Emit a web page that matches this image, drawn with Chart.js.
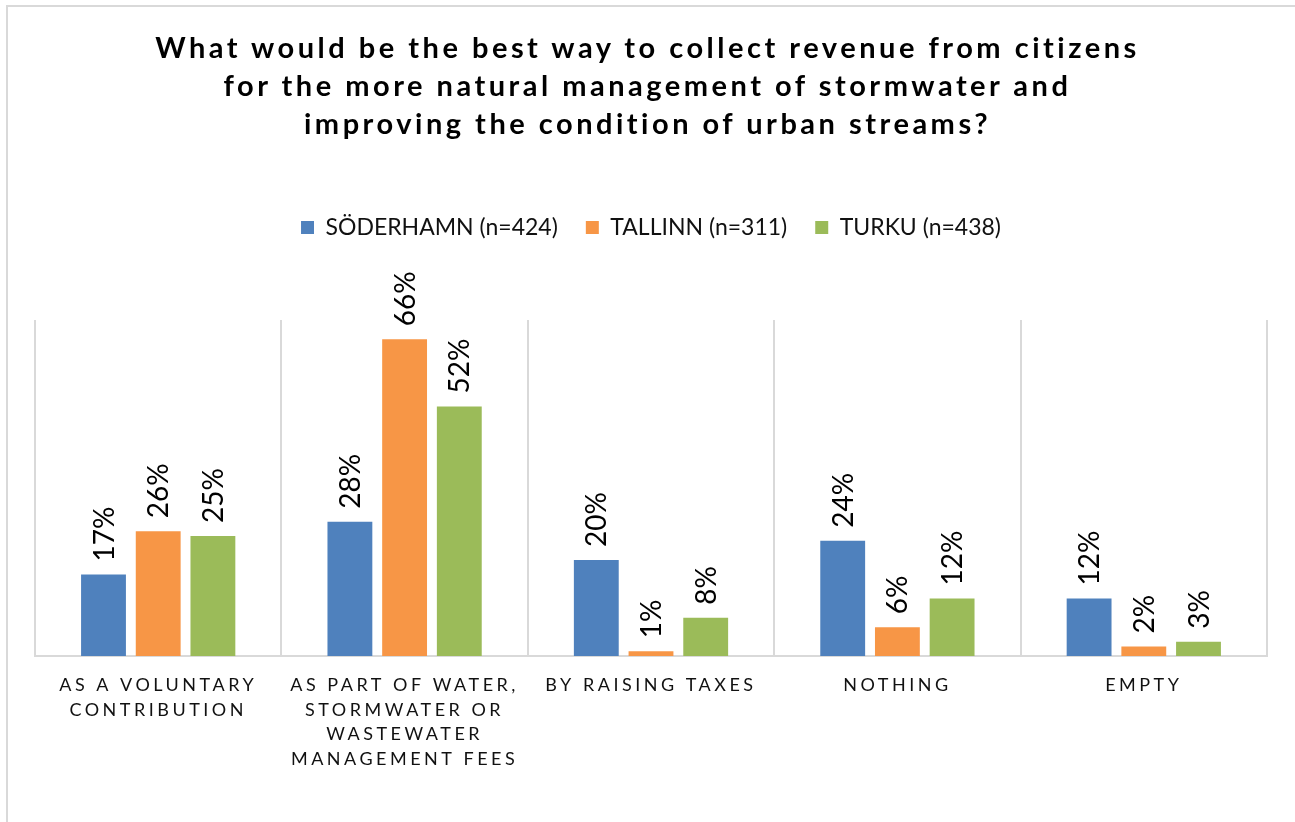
<!DOCTYPE html>
<html>
<head>
<meta charset="utf-8">
<script src="https://cdn.jsdelivr.net/npm/chart.js@4.4.1/dist/chart.umd.min.js"></script>
<style>
    html, body { margin: 0; padding: 0; background: #fff; }
    #wrap { position: relative; width: 1295px; height: 822px; overflow: hidden; }
    #frame { position: absolute; left: 6px; top: 5px; right: -10px; bottom: -10px;
             border-top: 2px solid #d9d9d9; border-left: 2px solid #d9d9d9; }
    #title { position: absolute; left: 0; top: 28px; width: 1295px; text-align: center;
             font-family: Lato, sans-serif; font-weight: bold; font-size: 29px;
             line-height: 38px; letter-spacing: 3.5px; color: #000; }
    canvas { position: absolute; left: 0; top: 0; }
</style>
</head>
<body>
<div id="wrap">
    <div id="frame"></div>
    <canvas id="chart" width="1295" height="822"></canvas>
    <div id="title">What would be the best way to collect revenue from citizens<br>for the more natural management of stormwater and<br>improving the condition of urban streams?</div>
</div>
<script>
// answer categories (multi-line axis labels)
const categories = [
    ['AS A VOLUNTARY', 'CONTRIBUTION'],
    ['AS PART OF WATER,', 'STORMWATER OR', 'WASTEWATER', 'MANAGEMENT FEES'],
    ['BY RAISING TAXES'],
    ['NOTHING'],
    ['EMPTY']
];

// percent of respondents per city
const soderhamn = [17, 28, 20, 24, 12];
const tallinn = [26, 66, 1, 6, 2];
const turku = [25, 52, 8, 12, 3];

const seriesNames = ['SÖDERHAMN (n=424)', 'TALLINN (n=311)', 'TURKU (n=438)'];
const seriesColors = ['#4f81bd', '#f79646', '#9bbb59'];

// rotated % labels above bars, then letter spacing for the axis labels (drawn on layer z=1)
const barLabels = {
    id: 'barLabels',
    afterDatasetsDraw(chart) {
        const ctx = chart.ctx;
        chart.data.datasets.forEach((ds, i) => {
            chart.getDatasetMeta(i).data.forEach((bar, j) => {
                ctx.save();
                ctx.translate(bar.x + 1, bar.y - 13);
                ctx.rotate(-Math.PI / 2);
                ctx.font = '28px Lato, sans-serif';
                ctx.fillStyle = '#000';
                ctx.textAlign = 'left';
                ctx.textBaseline = 'middle';
                ctx.fillText(ds.data[j] + '%', 0, 0);
                ctx.restore();
            });
        });
        ctx.letterSpacing = '3.5px';
    },
    afterDraw(chart) {
        chart.ctx.letterSpacing = '0px';
    }
};

new Chart(document.getElementById('chart'), {
    type: 'bar',
    data: {
        labels: categories,
        datasets: [soderhamn, tallinn, turku].map((values, i) => ({
            label: seriesNames[i],
            data: values,
            backgroundColor: seriesColors[i],
            categoryPercentage: 0.666,
            barPercentage: 0.82
        }))
    },
    options: {
        responsive: false,
        animation: false,
        layout: { padding: { left: 35, right: 28, top: 188, bottom: 34 } },
        plugins: {
            legend: {
                position: 'top',
                weight: 3000,
                labels: {
                    boxWidth: 13,
                    boxHeight: 13,
                    padding: 28,
                    color: '#111',
                    font: { family: 'Lato, sans-serif', size: 23 }
                }
            },
            // empty subtitle used as a spacer between the legend and the plot
            subtitle: {
                display: true,
                text: '',
                font: { size: 10 },
                padding: { top: 0, bottom: 59 }
            },
            tooltip: { enabled: false }
        },
        scales: {
            x: {
                grid: { color: '#d9d9d9', lineWidth: 2, drawTicks: false },
                border: { color: '#d9d9d9', width: 2 },
                ticks: {
                    z: 1,
                    padding: 17,
                    maxRotation: 0,
                    autoSkip: false,
                    color: '#111',
                    font: { family: 'Lato, sans-serif', size: 18, lineHeight: 1.36 }
                }
            },
            y: {
                display: false,
                min: 0,
                max: 70
            }
        }
    },
    plugins: [barLabels]
});
</script>
</body>
</html>
